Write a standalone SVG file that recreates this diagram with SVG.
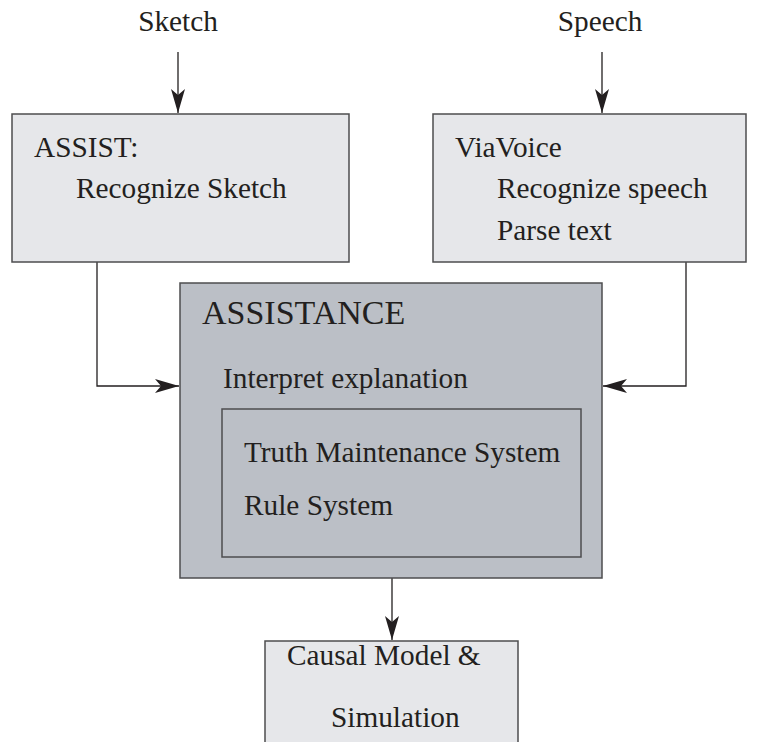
<svg xmlns="http://www.w3.org/2000/svg" width="758" height="742" viewBox="0 0 758 742">
<style>
text{font-family:'Liberation Serif','Times New Roman',serif;font-size:29.3px;fill:#231f20}
text.big{font-size:34px}
.light{fill:#e6e7ea;stroke:#4d4d4f;stroke-width:1.5}
.dark{fill:#bbbfc6;stroke:#4d4d4f;stroke-width:1.5}
.conn{fill:none;stroke:#231f20;stroke-width:1.3}
</style>
<defs>
<marker id="ah" markerUnits="userSpaceOnUse" markerWidth="26" markerHeight="16" viewBox="-24 -8 26 16" refX="0" refY="0" orient="auto">
<path d="M0,0 L-24,-7 L-18,0 L-24,7 Z" fill="#231f20"/>
</marker>
</defs>
<rect width="758" height="742" fill="#ffffff"/>
<g id="connectors">
<path class="conn" d="M178,52 V113" marker-end="url(#ah)"/>
<path class="conn" d="M602,52 V113" marker-end="url(#ah)"/>
<path class="conn" d="M97,262 V386 H179" marker-end="url(#ah)"/>
<path class="conn" d="M686,262 V386 H603" marker-end="url(#ah)"/>
<path class="conn" d="M392,578 V640" marker-end="url(#ah)"/>
</g>
<g id="sketch-input"><text x="178" y="31" text-anchor="middle">Sketch</text></g>
<g id="speech-input"><text x="600" y="31" text-anchor="middle">Speech</text></g>
<g id="assist">
<rect class="light" x="12" y="114" width="337" height="148"/>
<text x="34" y="157">ASSIST:</text>
<text x="76" y="198">Recognize Sketch</text>
</g>
<g id="viavoice">
<rect class="light" x="433" y="114" width="313" height="148"/>
<text x="455" y="157">ViaVoice</text>
<text x="497" y="198">Recognize speech</text>
<text x="497" y="240">Parse text</text>
</g>
<g id="assistance">
<rect class="dark" x="180" y="283" width="422" height="295"/>
<text class="big" x="202" y="324">ASSISTANCE</text>
<text x="223" y="388">Interpret explanation</text>
</g>
<g id="inner">
<rect class="dark" x="222" y="409" width="359" height="148"/>
<text x="244" y="462">Truth Maintenance System</text>
<text x="244" y="515">Rule System</text>
</g>
<g id="causal">
<rect class="light" x="265" y="641" width="253" height="110"/>
<text x="287" y="665">Causal Model &amp;</text>
<text x="331" y="727">Simulation</text>
</g>
</svg>
